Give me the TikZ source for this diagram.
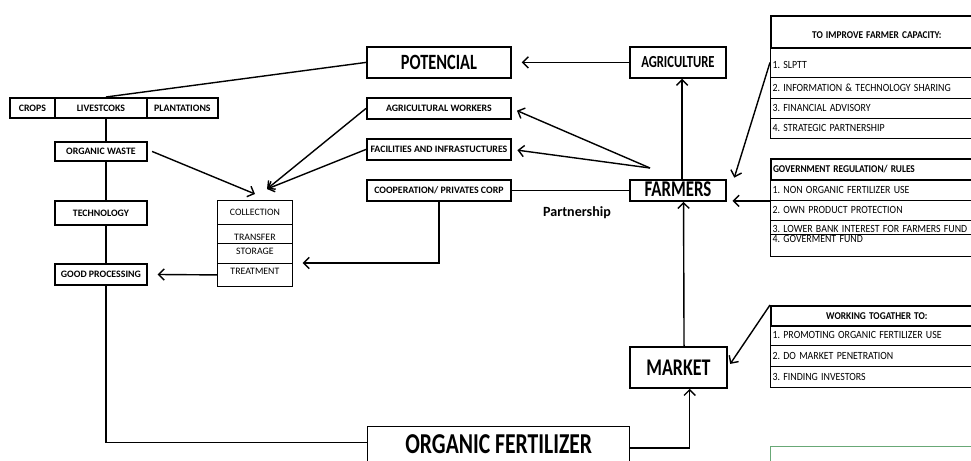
\documentclass[tikz,border=0pt]{standalone}
\usepackage{fontspec}
\setmainfont{Carlito}
\usepackage{tikz}
\usetikzlibrary{arrows.meta,calc}
\frenchspacing
\definecolor{boxgreen}{RGB}{104,168,118}
\newcommand{\squeeze}[1]{\scalebox{.75}[1]{#1}}
\newcommand{\tx}[1]{\scalebox{.9}[1]{#1}}
\tikzstyle{box}=[draw,line width=1.3pt,anchor=north west,inner sep=0pt,font=\bfseries\fontsize{7}{8}\selectfont]
\tikzstyle{cell}=[draw,line width=0.6pt,anchor=north west,inner sep=0pt,font=\fontsize{7}{8}\selectfont]
\tikzstyle{row}=[draw,line width=0.6pt,anchor=north west,inner ysep=0pt,inner xsep=1.5pt,text width=5.19cm,align=left,font=\fontsize{7.8}{8}\selectfont]
\tikzstyle{head}=[row,line width=1.2pt,font=\bfseries\fontsize{7.4}{8}\selectfont]
\tikzstyle{line} = [draw,line width=1pt,-{Straight Barb[length=4pt,width=8pt]}]
\tikzstyle{conn} = [draw,line width=1pt]
\tikzset{sz/.style 2 args={minimum width=#1*0.025cm,minimum height=#2*0.025cm}}

\begin{document}
\begin{tikzpicture}[x=0.025cm,y=-0.025cm]
  \useasboundingbox (0,0) rectangle (971,460);
  \clip (0,0) rectangle (971,460);
  % middle column
  \node[box,sz={144}{31},font=\bfseries\fontsize{15.5}{16}\selectfont] (pot) at (366,46) {\squeeze{POTENCIAL}};
  \node[box,sz={96}{31},font=\bfseries\fontsize{12}{14}\selectfont] (agri) at (629,46) {\squeeze{AGRICULTURE}};
  \node[box,sz={144}{21}] (work) at (366,97) {AGRICULTURAL WORKERS};
  \node[box,sz={144}{21}] (fac) at (366,138) {FACILITIES AND INFRASTUCTURES};
  \node[box,sz={144}{21}] (coop) at (366,179) {COOPERATION/ PRIVATES CORP};
  \node[box,sz={96}{21},font=\bfseries\fontsize{16}{16}\selectfont,text height=9pt,text depth=0pt] (farm) at (629,179) {\squeeze{FARMERS}};
  \node[box,sz={97}{41},font=\bfseries\fontsize{17}{18}\selectfont] (mark) at (629,346) {\squeeze{MARKET}};
  \node[box,line width=1pt,sz={262}{40},font=\bfseries\fontsize{20.5}{22}\selectfont,text height=11pt,text depth=2pt] (ofert) at (367,426) {\squeeze{ORGANIC FERTILIZER}};
  \node[font=\bfseries\fontsize{10}{12}\selectfont] (part) at (577,213) {Partnership};
  % left column
  \node[box,sz={45}{20}] (crops) at (9,97) {CROPS};
  \node[box,sz={92}{20}] (live) at (54,97) {LIVESTCOKS};
  \node[box,sz={71}{20}] (plant) at (146,97) {PLANTATIONS};
  \node[box,sz={92}{19}] (owaste) at (54,141) {ORGANIC WASTE};
  \node[box,sz={92}{24}] (tech) at (54,200) {TECHNOLOGY};
  \node[box,sz={92}{21}] (gproc) at (54,263) {GOOD PROCESSING};
  % collection table
  \node[cell,sz={75}{24}] (coll) at (217,200) {COLLECTION};
  \node[cell,sz={75}{19},text height=9pt,text depth=0pt] (trans) at (217,224) {TRANSFER};
  \node[cell,sz={75}{20},text height=5pt,text depth=3.3pt] (stor) at (217,243) {STORAGE};
  \node[cell,sz={75}{23},text height=5pt,text depth=5.5pt] (treat) at (217,263) {TREATMENT};
  % right tables
  \node[head,sz={212}{32},align=center,text height=10.1pt,text depth=0pt] (imp0) at (770,15) {\tx{TO IMPROVE FARMER CAPACITY:}};
  \node[row,sz={212}{30},text height=8.7pt,text depth=0pt] (imp1) at (770,47) {\tx{1. SLPTT}};
  \node[row,sz={212}{21}] (imp2) at (770,77) {\tx{2. INFORMATION \& TECHNOLOGY SHARING}};
  \node[row,sz={212}{20}] (imp3) at (770,98) {\tx{3. FINANCIAL ADVISORY}};
  \node[row,sz={212}{20}] (imp4) at (770,118) {\tx{4. STRATEGIC PARTNERSHIP}};

  \node[head,sz={212}{21}] (gov0) at (770,158) {\tx{GOVERNMENT REGULATION/ RULES}};
  \node[row,sz={212}{21}] (gov1) at (770,179) {\tx{1. NON ORGANIC FERTILIZER USE}};
  \node[row,sz={212}{20}] (gov2) at (770,200) {\tx{2. OWN PRODUCT PROTECTION}};
  \node[row,sz={212}{14},text height=7.5pt,text depth=0pt] (gov3) at (770,220) {\tx{3. LOWER BANK INTEREST FOR FARMERS FUND}};
  \node[row,sz={212}{22},text height=5pt,text depth=9pt] (gov4) at (770,234) {\tx{4. GOVERMENT FUND}};

  \node[head,sz={212}{20},align=center] (wk0) at (770,305) {\tx{WORKING TOGATHER TO:}};
  \node[row,sz={212}{20}] (wk1) at (770,325) {\tx{1. PROMOTING ORGANIC FERTILIZER USE}};
  \node[row,sz={212}{21}] (wk2) at (770,345) {\tx{2. DO MARKET PENETRATION}};
  \node[row,sz={212}{21}] (wk3) at (770,366) {\tx{3. FINDING INVESTORS}};

  \node[cell,draw=boxgreen,sz={212}{40}] (gbox) at (770,446) {};
  % connectors
  \coordinate (spine) at (106,0);
  \coordinate (fk) at (650,168);
  \coordinate (cin1) at (255,194);
  \coordinate (cin2) at (267,189);
  \draw[conn] (pot.west) -- (live.north -| spine);
  \draw[conn] (live.south -| spine) -- (owaste.north -| spine);
  \draw[conn] (owaste.south -| spine) -- (tech.north -| spine);
  \draw[conn] (tech.south -| spine) -- (gproc.north -| spine);
  \draw[conn] (gproc.south -| spine) |- ([yshift=3pt]ofert.west);
  \draw[line] ([yshift=-1pt]ofert.east) -| ([xshift=8pt]mark.south);
  \draw[line] ([xshift=4pt]mark.north) -- ([xshift=4pt]farm.south);
  \draw[line] ([xshift=3pt]farm.north) -- ([xshift=3pt]agri.south);
  \draw[line,shorten >=7pt] (agri.west) -- (pot.east);
  \draw[line,shorten >=4pt] (fk) -- (work.east);
  \draw[line,shorten >=4pt] (fk) -- (fac.east);
  \draw[conn] (coop.east) -- (farm.west);
  \draw[line,shorten >=7pt] (coop.south) |- (treat.north east);
  \draw[line,shorten >=7pt] (treat.west) -- (gproc.east);
  \draw[line] ([xshift=3pt]owaste.east) -- (cin1);
  \draw[line] (work.west) -- (cin2);
  \draw[line] (fac.west) -- (cin2);
  \draw[line,shorten >=1pt] (imp1.west) -- ([xshift=5pt]farm.north east);
  \draw[line,shorten >=4pt] (gov1.south west) -- (farm.east |- gov1.south west);
  \draw[line,shorten >=3pt] (wk0.north west) -- (mark.east);
\end{tikzpicture}
\end{document}
